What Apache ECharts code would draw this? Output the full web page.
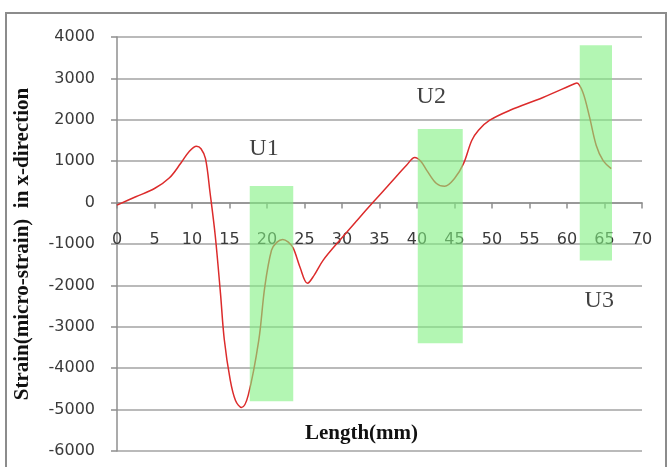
<!DOCTYPE html>
<html>
<head>
<meta charset="utf-8">
<script src="https://cdn.jsdelivr.net/npm/echarts@6/dist/echarts.min.js"></script>
<style>
  html, body { margin: 0; padding: 0; background: #fff; }
  #chart { width: 668px; height: 467px; }
</style>
</head>
<body>
<div id="chart"></div>
<script>
// strain curve: [length mm, micro-strain]
const lengthMm = [0, 2.5, 5, 7, 8.5, 9.6, 10.6, 11.2, 11.8, 12.4, 13.1, 13.8, 14.3, 15.1, 15.8, 16.6, 17.5, 18.9, 19.7, 20.6, 21.3, 22.1, 22.8, 23.5, 24.4, 25.4, 26.3, 27.5, 29.7, 32.0, 34.2, 36.4, 38.6, 39.7, 40.5, 41.3, 42.6, 43.7, 45.0, 46.2, 47.3, 48.2, 49.7, 52.4, 56.8, 61.0, 61.3, 62.1, 63.0, 63.9, 64.8, 65.9];
const strain = [-60, 140, 340, 600, 950, 1230, 1360, 1300, 1060, 250, -800, -2200, -3300, -4290, -4780, -4950, -4650, -3330, -2040, -1150, -960, -890, -950, -1100, -1560, -1950, -1750, -1390, -910, -430, 20, 460, 900, 1090, 1000, 780, 460, 395, 580, 940, 1500, 1750, 1990, 2230, 2540, 2870, 2890, 2670, 2070, 1380, 1020, 820];

// highlighted zones
const zoneNames = ['U1', 'U2', 'U3'];
const zoneX = [[17.7, 23.5], [40.1, 46.1], [61.7, 66.0]];
const zoneY = [[400, -4800], [1780, -3400], [3800, -1400]];

// zone labels, placed in data units
const zoneLabelPos = [[19.6, 1310], [41.9, 2550], [64.3, -2370]];

const xTicks = { min: 0, max: 70, interval: 5 };
const yTicks = { min: -6000, max: 4000, interval: 1000 };

// plot box in pixels
const gridTop = 37, gridBottom = 16;
const plotH = 467 - gridTop - gridBottom;
// the x axis crosses at y = 0: lift it from the bottom edge by hand
const zeroLift = plotH * (0 - yTicks.min) / (yTicks.max - yTicks.min);

const chart = echarts.init(document.getElementById('chart'), null, { renderer: 'canvas' });

const curve = lengthMm.map((x, i) => [x, strain[i]]);
const zones = zoneNames.map((n, i) => [
  { xAxis: zoneX[i][0], yAxis: zoneY[i][0] },
  { xAxis: zoneX[i][1], yAxis: zoneY[i][1] }
]);
const labels = zoneNames.map((n, i) => ({ value: zoneLabelPos[i], name: n }));

const option = {
  animation: false,
  backgroundColor: '#fff',
  grid: { left: 117, right: 26, top: gridTop, bottom: gridBottom, containLabel: false, outerBoundsMode: 'none' },
  graphic: [{
    type: 'rect',
    shape: { x: 6, y: 13, width: 660, height: 470 },
    style: { fill: 'none', stroke: '#8c8c8c', lineWidth: 2 },
    silent: true
  }],
  xAxis: {
    type: 'value',
    position: 'bottom',
    offset: -zeroLift,
    min: xTicks.min, max: xTicks.max, interval: xTicks.interval,
    name: 'Length(mm)',
    nameLocation: 'middle',
    nameGap: 220,
    nameTextStyle: { fontFamily: 'Liberation Serif', fontWeight: 'bold', fontSize: 21, color: '#111', padding: [0, 36, 0, 0] },
    axisLine: { show: true, onZero: false, lineStyle: { color: '#8f8f8f', width: 1.5 } },
    axisTick: { show: true, inside: false, length: 6, lineStyle: { color: '#8f8f8f', width: 1.5 } },
    axisLabel: { show: true, margin: 29, fontFamily: 'DejaVu Sans', fontSize: 16, color: '#3a3a3a' },
    splitLine: { show: false }
  },
  yAxis: {
    type: 'value',
    min: yTicks.min, max: yTicks.max, interval: yTicks.interval,
    name: 'Strain(micro-strain)  in x-direction',
    nameLocation: 'middle',
    nameGap: 84,
    nameRotate: 90,
    nameTextStyle: { fontFamily: 'Liberation Serif', fontWeight: 'bold', fontSize: 21, color: '#111' },
    axisLine: { show: true, onZero: false, lineStyle: { color: '#8f8f8f', width: 1.5 } },
    axisTick: { show: true, inside: false, length: 6, lineStyle: { color: '#8f8f8f', width: 1.5 } },
    axisLabel: { margin: 22, fontFamily: 'DejaVu Sans', fontSize: 16, color: '#3a3a3a', formatter: v => String(v) },
    splitLine: { show: true, lineStyle: { color: '#a3a3a3', width: 1.5 } }
  },
  series: [
    {
      type: 'line',
      name: 'strain',
      data: curve,
      smooth: 0.35,
      showSymbol: false,
      lineStyle: { color: '#dc2b2b', width: 1.5 },
      z: 2,
      markArea: {
        silent: true,
        itemStyle: { color: 'rgba(128,240,128,0.6)' },
        data: zones,
        z: 3
      }
    },
    {
      type: 'scatter',
      name: 'zones',
      data: labels,
      symbolSize: 0,
      label: {
        show: true,
        position: 'inside',
        formatter: p => p.name,
        fontFamily: 'Liberation Serif',
        fontSize: 24,
        color: '#111'
      },
      z: 5
    }
  ]
};

chart.setOption(option);
</script>
</body>
</html>
